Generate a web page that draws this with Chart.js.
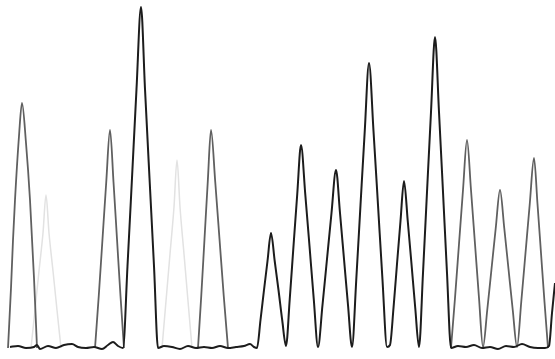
<!DOCTYPE html>
<html lang="en">
<head>
    <meta charset="UTF-8">
    <meta name="viewport" content="width=device-width, initial-scale=1.0">
    <title>Trace</title>
    <script src="https://cdn.jsdelivr.net/npm/chart.js@4.4.1/dist/chart.umd.min.js"></script>
    <style>
        html, body {
            margin: 0;
            padding: 0;
            background: #ffffff;
        }
    </style>
</head>
<body>
    <canvas id="traceChart" width="555" height="359"></canvas>

    <script>
        // scan position and signal for each trace
        const darkX = [10, 18, 26, 34, 37, 40, 48, 56, 64, 72, 78, 86, 94, 102, 108, 113, 118,
            123, 127.5, 132, 136.5, 141, 145, 149.5, 154, 158,
            164, 172, 180, 188, 196, 204, 212, 220, 228, 236, 244, 250, 254,
            257, 260.5, 264, 267.5, 271, 274.7, 278.5, 282.2, 286,
            289.75, 293.5, 297.25, 301, 305.25, 309.5, 313.75, 318,
            322.5, 327, 331.5, 336, 340, 344, 348, 352,
            356.25, 360.5, 364.75, 369, 373.5, 378, 382.5, 387,
            390, 393.5, 397, 400.5, 404, 407.75, 411.5, 415.25, 419,
            423, 427, 431, 435, 439, 443, 447, 451,
            458, 466, 474, 482, 490, 498, 506, 514, 522, 530, 538, 545, 549, 552, 555];
        const darkY = [1, 2, 0, 1, 3, -1, 2, 0, 3, 4, 1, 0, 1, -1, 3, 6, 2,
            0, 82, 170, 259, 341, 259, 170, 82, 0,
            2, 1, -1, 2, 0, 1, 0, 2, 0, 1, 2, 4, 1,
            0, 28, 58, 87, 115, 87, 58, 28, 2,
            49, 102, 154, 203, 154, 102, 49, 1,
            43, 89, 135, 178, 135, 89, 43, 1,
            68, 143, 217, 285, 217, 143, 68, 1,
            3, 40, 84, 127, 167, 127, 84, 40, 1,
            75, 156, 236, 311, 236, 156, 75, 0,
            2, 1, 3, 0, 1, -1, 2, 1, 4, 1, 0, 0, 2, 35, 65];

        const midX = [8, 11, 13, 15, 19, 22, 26, 30, 34, 37, 38,
            95, 98.75, 102.5, 106.25, 110, 113.5, 117, 120.5, 124, 125,
            198, 201.25, 204.5, 207.75, 211, 215.25, 219.5, 223.75, 228, 229,
            451, 455, 459, 463, 467, 471, 475, 479, 483,
            487.25, 491.5, 495.75, 500, 504.25, 508.5, 512.75, 517,
            521.25, 525.5, 529.75, 534, 537.5, 541, 544.5, 548];
        const midY = [0, 60, 108, 148, 212, 245, 205, 148, 70, 0, null,
            0, 52, 109, 166, 218, 166, 109, 52, 0, null,
            0, 52, 109, 166, 218, 166, 109, 52, 0, null,
            0, 50, 104, 158, 208, 158, 104, 50, 1,
            38, 79, 120, 158, 120, 79, 38, 1,
            46, 95, 144, 190, 144, 95, 46, 0];

        const lightX = [31, 35, 39, 43, 46, 49, 53, 57, 61, 62,
            162, 166, 170, 174, 177, 180, 184, 188, 192];
        const lightY = [0, 38, 77, 115, 153, 115, 77, 38, 0, null,
            0, 47, 94, 141, 188, 141, 94, 47, 0];

        function toPoints(xs, ys) {
            return xs.map((x, i) => ({ x: x, y: ys[i] }));
        }

        let traceCtx = document.getElementById("traceChart").getContext("2d");
        let traceChart = new Chart(traceCtx, {
            type: "line",
            data: {
                datasets: [
                    {
                        label: "light",
                        data: toPoints(lightX, lightY),
                        borderColor: "#e2e2e2",
                        borderWidth: 1.5,
                        order: 3
                    },
                    {
                        label: "mid",
                        data: toPoints(midX, midY),
                        borderColor: "#606060",
                        borderWidth: 1.8,
                        order: 2
                    },
                    {
                        label: "dark",
                        data: toPoints(darkX, darkY),
                        borderColor: "#1c1c1c",
                        borderWidth: 2,
                        order: 1
                    }
                ]
            },
            options: {
                responsive: false,
                animation: false,
                events: [],
                layout: { padding: 0 },
                elements: {
                    point: { radius: 0 },
                    line: { cubicInterpolationMode: "monotone", fill: false }
                },
                plugins: {
                    legend: { display: false },
                    tooltip: { enabled: false }
                },
                scales: {
                    x: { type: "linear", min: 0, max: 555, display: false },
                    y: { min: -11, max: 348, display: false }
                }
            }
        });
    </script>
</body>
</html>
